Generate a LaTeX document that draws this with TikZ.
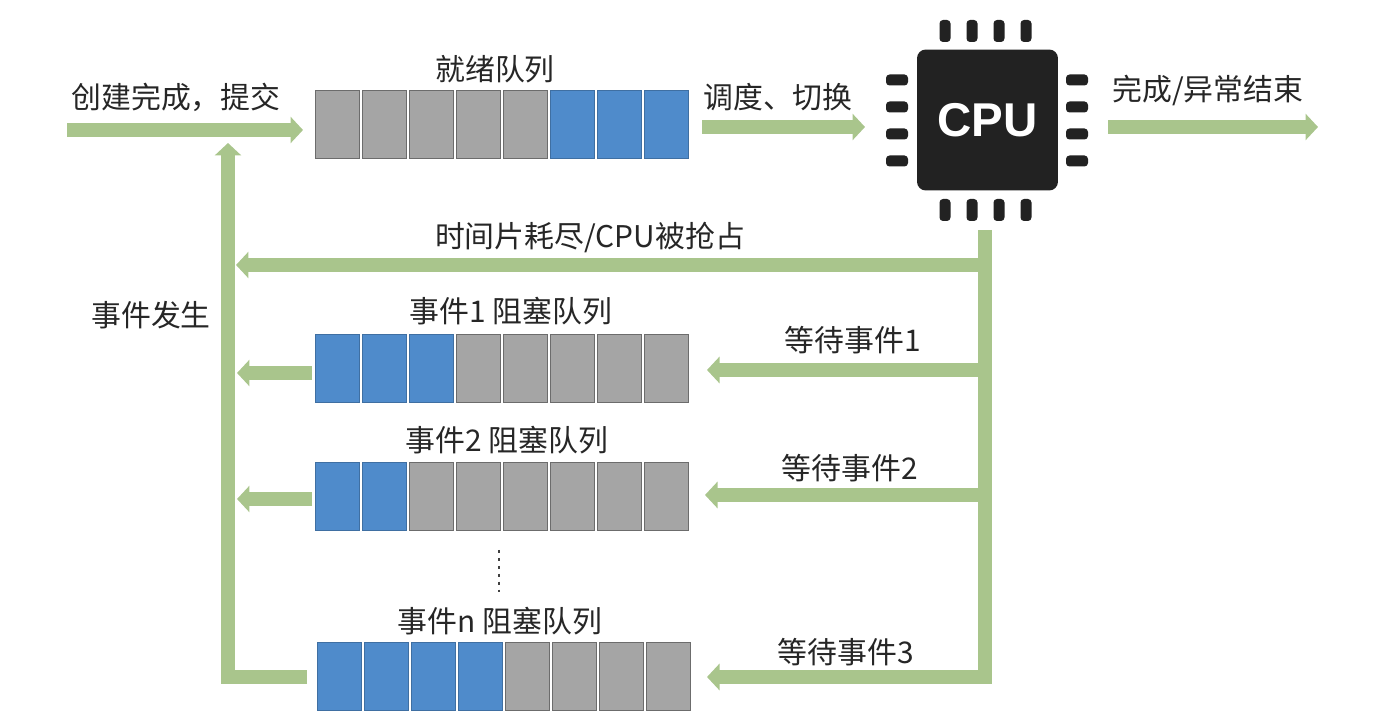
\documentclass[tikz,border=0pt]{standalone}
\usepackage{fontspec}
\setmainfont{Noto Sans CJK SC}
\setsansfont{Liberation Sans}
\usepackage{xcolor}
\usepackage{tikz}
\usetikzlibrary{arrows.meta}
\definecolor{flowgreen}{HTML}{A9C58C}
\definecolor{cellgray}{HTML}{A5A5A5}
\definecolor{cellblue}{HTML}{4F8BCB}
\definecolor{chipblack}{HTML}{222222}
\tikzset{
  cellg/.style={fill=cellgray, draw=gray!85!black, line width=0.4pt, rectangle, minimum width = 0.88cm, minimum height = 1.36cm, inner sep=0pt},
  cellb/.style={fill=cellblue, draw=cellblue!80!black, line width=0.4pt, rectangle, minimum width = 0.88cm, minimum height = 1.36cm, inner sep=0pt},
  pinh/.style={fill=chipblack, rectangle, rounded corners=2pt, minimum width = 0.44cm, minimum height = 0.22cm, inner sep=0pt},
  pinv/.style={fill=chipblack, rectangle, rounded corners=2pt, minimum width = 0.22cm, minimum height = 0.44cm, inner sep=0pt},
  flow/.style={draw=flowgreen, line width=0.27cm, line join=miter, -{Triangle[length=0.25cm,width=0.52cm,fill=flowgreen]}},
  label/.style={text=black!85, font=\fontsize{17}{20}\selectfont, inner sep=0pt}
}
\begin{document}
\begin{tikzpicture}[x=0.02cm,y=-0.02cm]
\useasboundingbox (0,0) rectangle (1397,715);

% ready queue
\node[cellg] (r1) at (337,124) {};
\node[cellg] (r2) at (384,124) {};
\node[cellg] (r3) at (431,124) {};
\node[cellg] (r4) at (478,124) {};
\node[cellg] (r5) at (525,124) {};
\node[cellb] (r6) at (572,124) {};
\node[cellb] (r7) at (619,124) {};
\node[cellb] (r8) at (666,124) {};

% event 1 queue
\node[cellb] (a1) at (337,368) {};
\node[cellb] (a2) at (384,368) {};
\node[cellb] (a3) at (431,368) {};
\node[cellg] (a4) at (478,368) {};
\node[cellg] (a5) at (525,368) {};
\node[cellg] (a6) at (572,368) {};
\node[cellg] (a7) at (619,368) {};
\node[cellg] (a8) at (666,368) {};

% event 2 queue
\node[cellb] (b1) at (337,496) {};
\node[cellb] (b2) at (384,496) {};
\node[cellg] (b3) at (431,496) {};
\node[cellg] (b4) at (478,496) {};
\node[cellg] (b5) at (525,496) {};
\node[cellg] (b6) at (572,496) {};
\node[cellg] (b7) at (619,496) {};
\node[cellg] (b8) at (666,496) {};

% event n queue
\node[cellb] (n1) at (339,676) {};
\node[cellb] (n2) at (386,676) {};
\node[cellb] (n3) at (433,676) {};
\node[cellb] (n4) at (480,676) {};
\node[cellg] (n5) at (527,676) {};
\node[cellg] (n6) at (574,676) {};
\node[cellg] (n7) at (621,676) {};
\node[cellg] (n8) at (668,676) {};

% chip
\node[fill=chipblack, rectangle, rounded corners=5pt, minimum width = 2.82cm, minimum height = 2.82cm, inner sep=0pt,
    text=white, font=\sffamily\bfseries\fontsize{27}{30}\selectfont] (cpu) at (987.5,120) {CPU};
\node[pinv] (t1) at (945,31) {};
\node[pinv] (t2) at (972,31) {};
\node[pinv] (t3) at (999,31) {};
\node[pinv] (t4) at (1026,31) {};
\node[pinv] (d1) at (945,210) {};
\node[pinv] (d2) at (972,210) {};
\node[pinv] (d3) at (999,210) {};
\node[pinv] (d4) at (1026,210) {};
\node[pinh] (l1) at (897,80) {};
\node[pinh] (l2) at (897,107) {};
\node[pinh] (l3) at (897,134) {};
\node[pinh] (l4) at (897,161) {};
\node[pinh] (e1) at (1077,80) {};
\node[pinh] (e2) at (1077,107) {};
\node[pinh] (e3) at (1077,134) {};
\node[pinh] (e4) at (1077,161) {};

% free ends
\coordinate (sub) at (67,130);
\coordinate (subend) at (303,130);
\coordinate (out) at (702,127);
\coordinate (outend) at (865,127);
\coordinate (fin) at (1108,127);
\coordinate (finend) at (1318,127);
\coordinate (top) at (985,230);
\coordinate (j0) at (985,265);
\coordinate (j1) at (985,370);
\coordinate (j2) at (985,495);
\coordinate (j3) at (985,677);
\coordinate (k0) at (236,265);
\coordinate (k1) at (707,370);
\coordinate (k2) at (705,495);
\coordinate (k3) at (707,677);
\coordinate (m1) at (237,373);
\coordinate (m2) at (237,499);
\coordinate (up) at (228,143);
\coordinate (lc) at (228,677);
\coordinate (ld) at (307,677);
\coordinate (s1) at (312,373);
\coordinate (s2) at (312,499);
\coordinate (dot1) at (499,550);
\coordinate (dot2) at (499,592);

% connectors
\draw[flow] (sub) -- (subend);
\draw[flow] (out) -- (outend);
\draw[flow] (fin) -- (finend);
\draw[flow] (top) -- (j3) -- (k3);
\draw[flow] (j0) -- (k0);
\draw[flow] (j1) -- (k1);
\draw[flow] (j2) -- (k2);
\draw[flow] (s1) -- (m1);
\draw[flow] (s2) -- (m2);
\draw[flow] (ld) -- (lc) -- (up);
\draw[line width=1.7pt, dash pattern=on 1.7pt off 2.8pt, black!75] (dot1) -- (dot2);

% labels
\node[label] (lsub) at (176,97) {创建完成，提交};
\node[label] (lrdy) at (495,69) {就绪队列};
\node[label] (lsch) at (778,97) {调度、切换};
\node[label] (lfin) at (1208,91) {完成/异常结束};
\node[label] (lpre) at (590,238) {时间片耗尽/CPU被抢占};
\node[label] (lhap) at (151,315) {事件发生};
\node[label] (la) at (511,311) {事件1 阻塞队列};
\node[label] (lb) at (507,440) {事件2 阻塞队列};
\node[label] (ln) at (500,621) {事件n 阻塞队列};
\node[label] (wa) at (853,340) {等待事件1};
\node[label] (wb) at (850,468) {等待事件2};
\node[label] (wn) at (846,652) {等待事件3};

\end{tikzpicture}
\end{document}
